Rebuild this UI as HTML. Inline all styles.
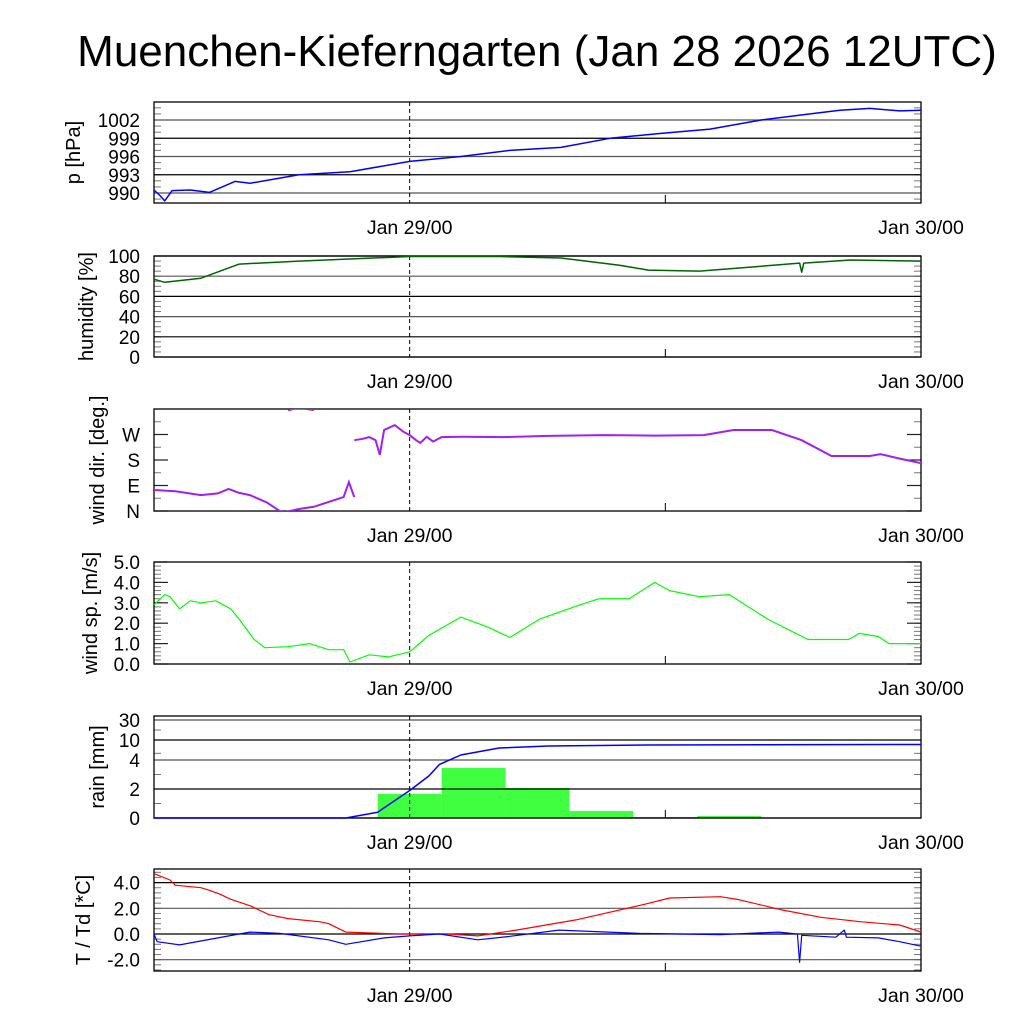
<!DOCTYPE html>
<html><head><meta charset="utf-8"><style>
body{margin:0;background:#fff}
svg{display:block;font-family:"Liberation Sans",sans-serif}
</style></head><body>
<svg id="c" width="1024" height="1024" viewBox="0 0 1024 1024">
<text x="537" y="66" font-size="44" text-anchor="middle">Muenchen-Kieferngarten (Jan 28 2026 12UTC)</text>
</svg>
<script>
// time in hours since Jan 28 12UTC
const xTickLabels = ["Jan 29/00","Jan 30/00"];
const xTickHours = [12,36];
const pT = [0,0.3,0.5,0.85,1.7,2.6,3.8,4.5,6.8,9.2,12,14.4,16.7,19.1,21.4,23.8,26.1,28.5,30.8,32.2,33.6,35,36];
const pV = [990.5,989.5,988.7,990.4,990.5,990.1,991.9,991.6,993,993.5,995.2,996,997,997.5,999,999.8,1000.5,1002,1003,1003.6,1003.9,1003.5,1003.6];
const rhT = [0,0.5,2.2,4,6.8,12,16.2,19.1,21.8,23.2,25.6,28,30.3,30.4,30.5,32.7,36];
const rhV = [77,74,78,92,95,99.5,99.5,98,91,86,85,89,93,84,93,96,95];
const wdT1 = [0,1,2.2,3,3.5,4,4.5,5.3,5.9,6.3];
const wdV1 = [74,70,56,62,78,64,56,30,0,-10];
const wdT2 = [6.3,6.6,7.0,7.5];
const wdV2 = [355,362,362,356];
const wdT3 = [6.1,6.8,7.5,8.2,8.9,9.15,9.4];
const wdV3 = [-5,7,15,32,49,102,49];
const wdT4 = [9.4,9.8,10.1,10.4,10.6,10.8,11.3,11.7,12,12.3,12.5,12.8,13.1,13.5,14.5,16.4,18.5,21.1,23.5,25.8,27.2,29,30.4,31.8,33.6,34.1,35,36];
const wdV4 = [250,255,261,250,198,286,303,280,268,250,240,262,245,261,262,261,265,268,266,268,286,286,250,194,194,201,185,169];
const wsT = [0,0.5,0.75,1.2,1.7,2.2,2.9,3.6,4,4.7,5.2,6.3,7.3,8.2,8.9,9.2,10.1,11,12,12.9,14.4,15.7,16.7,18.1,20,20.9,22.3,23.5,24.2,25.6,27,28.8,30.7,32.6,33.1,34,34.5,36];
const wsV = [2.9,3.4,3.3,2.7,3.1,3.0,3.1,2.7,2.2,1.2,0.8,0.85,1.0,0.7,0.7,0.1,0.45,0.35,0.6,1.4,2.3,1.8,1.3,2.2,2.9,3.2,3.2,4.0,3.6,3.3,3.4,2.2,1.2,1.2,1.5,1.35,1.0,1.0];
const rainBinStart = [10.5,13.5,16.5,19.5,22.5,25.5,28.5];
const rainBinVal = [1.66,3.45,2.07,0.48,0.07,0.14,0.02];
const rainCumT = [0,9,10.5,12,12.9,13.4,14.4,16.2,18.5,23.2,36];
const rainCumV = [0,0,0.4,1.9,2.9,3.7,5.5,7.6,8.2,8.5,8.65];
const rainTicks = [0,2,4,10,30];
const tT = [0,0.75,1,2.2,2.6,3.1,3.6,4.5,5.4,6.3,7.8,8.2,9,11.5,13.8,15.2,17,19.8,23,24.2,26.6,27.5,29.4,31.3,33.2,35,36];
const tV = [4.7,4.2,3.8,3.6,3.4,3.1,2.7,2.2,1.5,1.2,0.95,0.8,0.15,0,0,-0.15,0.3,1.1,2.3,2.8,2.9,2.65,1.9,1.3,0.95,0.7,0.15];
const tdT = [0,0.15,1.2,4,4.5,5.9,8.2,9,10.8,12,13.4,15.2,16.6,19,22.8,26.6,29.3,30.2,30.3,30.4,32,32.4,32.5,34,35,36];
const tdV = [0,-0.6,-0.85,0,0.15,0.05,-0.45,-0.8,-0.3,-0.15,0,-0.45,-0.2,0.3,0.05,-0.05,0.15,0,-2.2,-0.1,-0.25,0.3,-0.25,-0.3,-0.6,-0.95];

const svg=document.getElementById('c');
const NS='http://www.w3.org/2000/svg';
const X0=154,X1=921;
const xs=h=>X0+h*(X1-X0)/36;
function mk(tag,attrs,parent){const e=document.createElementNS(NS,tag);for(const k in attrs)e.setAttribute(k,attrs[k]);(parent||svg).appendChild(e);return e;}
function lin(v0,v1,y0,y1){return v=>y0+(v-v0)*(y1-y0)/(v1-v0);}
function pw(ticks,ys){return v=>{for(let i=0;i<ticks.length-1;i++){if(v<=ticks[i+1]||i==ticks.length-2){return ys[i]+(v-ticks[i])*(ys[i+1]-ys[i])/(ticks[i+1]-ticks[i]);}}};}
function line(T,V,ys,color,name,w){
  const d=T.map((t,i)=>(i?'L':'M')+xs(t).toFixed(1)+' '+ys(V[i]).toFixed(1)).join(' ');
  const p=mk('path',{d:d,fill:'none',stroke:color,'stroke-width':w||1.3,'stroke-linejoin':'round'});
  
  
}
function panel(o){
  const g=mk('g',{});
  
  
  const cp=mk('clipPath',{id:'cp'+o.name},g);mk('rect',{x:X0,y:o.top,width:X1-X0,height:o.bot-o.top},cp);
  (o.minor||[]).forEach(v=>{const y=o.ys(v);mk('line',{x1:X0,x2:X0+7,y1:y,y2:y,stroke:'#777','stroke-width':1},g);mk('line',{x1:X1-7,x2:X1,y1:y,y2:y,stroke:'#777','stroke-width':1},g);});
  o.ticks.forEach((v,i)=>{const y=o.ys(v);
    if(o.grid)mk('line',{x1:X0,x2:X1,y1:y,y2:y,stroke:i%2?'#000':'#555','stroke-width':1.2},g);
    else{mk('line',{x1:X0,x2:X0+14,y1:y,y2:y,stroke:'#222','stroke-width':1.2},g);mk('line',{x1:X1-14,x2:X1,y1:y,y2:y,stroke:'#222','stroke-width':1.2},g);}
    const t=mk('text',{x:140,y:y+7,'font-size':19,'text-anchor':'end'},g);t.textContent=o.labels[i];
    
    
  });
  mk('line',{x1:xs(12),x2:xs(12),y1:o.top,y2:o.bot,stroke:'#000','stroke-width':1,'stroke-dasharray':'4,3'},g);
  mk('line',{x1:xs(24),x2:xs(24),y1:o.bot-8,y2:o.bot,stroke:'#000','stroke-width':1},g);
  mk('rect',{x:X0,y:o.top,width:X1-X0,height:o.bot-o.top,fill:'none',stroke:'#000','stroke-width':1.3},g);
  const yl=mk('text',{x:0,y:0,'font-size':20,'text-anchor':'middle',transform:`translate(${o.lx},${(o.top+o.bot)/2}) rotate(-90)`},g);
  yl.textContent=o.title;
  
  
  xTickLabels.forEach((s,i)=>{const t=mk('text',{x:xs(xTickHours[i]),y:o.bot+31,'font-size':19.5,'text-anchor':'middle'},g);t.textContent=s;
    
    });
  return 'url(#cp'+o.name+')';
}
function rng(a,b,s){const r=[];for(let v=a;v<=b+1e-9;v+=s)r.push(+v.toFixed(3));return r;}
let ysP=lin(990,1002,193,120);
panel({name:'pressure',top:102,bot:203,ys:ysP,ticks:[990,993,996,999,1002],labels:['990','993','996','999','1002'],grid:true,minor:rng(989,1004,1),title:'p [hPa]',lx:80});
line(pT,pV,ysP,'#0000ff','pressure-line',1.5);
let ysH=lin(0,100,357,256);
panel({name:'humidity',top:256,bot:357,ys:ysH,ticks:[0,20,40,60,80,100],labels:['0','20','40','60','80','100'],grid:true,minor:rng(0,100,5),title:'humidity [%]',lx:93});
line(rhT,rhV,ysH,'#006400','humidity-line',1.5);
let ysD=lin(0,360,511,409);
let cpD=panel({name:'wind-dir',top:409,bot:511,ys:ysD,ticks:[0,90,180,270],labels:['N','E','S','W'],grid:false,minor:rng(45,360,45),title:'wind dir. [deg.]',lx:104});
[[wdT1,wdV1],[wdT2,wdV2],[wdT3,wdV3],[wdT4,wdV4]].forEach((s,i)=>{
  const d=s[0].map((t,j)=>(j?'L':'M')+xs(t).toFixed(1)+' '+ysD(s[1][j]).toFixed(1)).join(' ');
  const p=mk('path',{d:d,fill:'none',stroke:'#a020f0','stroke-width':2,'clip-path':cpD});
  
  
});
let ysS=lin(0,5,664,562);
panel({name:'wind-speed',top:562,bot:664,ys:ysS,ticks:[0,1,2,3,4,5],labels:['0.0','1.0','2.0','3.0','4.0','5.0'],grid:false,minor:rng(0,5,0.2),title:'wind sp. [m/s]',lx:97});
line(wsT,wsV,ysS,'#00ff00','wind-speed-line',1.2);
let ysR=pw(rainTicks,[818,789,760,740,720]);
const rg=mk('g',{});


rainBinStart.forEach((t,i)=>{const y=ysR(rainBinVal[i]);const r=mk('rect',{x:xs(t),y:y,width:xs(t+3)-xs(t),height:818-y,fill:'#40ff40'},rg);
  
  });
panel({name:'rain',top:716,bot:818,ys:ysR,ticks:rainTicks,labels:['0','2','4','10','30'],grid:true,minor:[1,3,6,20],title:'rain [mm]',lx:104});
line(rainCumT,rainCumV,ysR,'#0000ff','rain-cumulative-line',1.5);
let ysT=lin(0,2,934,908.3);
panel({name:'temperature',top:869,bot:971,ys:ysT,ticks:[-2,0,2,4],labels:['-2.0','0.0','2.0','4.0'],grid:true,minor:rng(-2.8,5,0.4),title:'T / Td [*C]',lx:90});
line(tT,tV,ysT,'#ff0000','temperature-line',1.2);
line(tdT,tdV,ysT,'#0000ff','dewpoint-line',1.2);
</script>
</body></html>
